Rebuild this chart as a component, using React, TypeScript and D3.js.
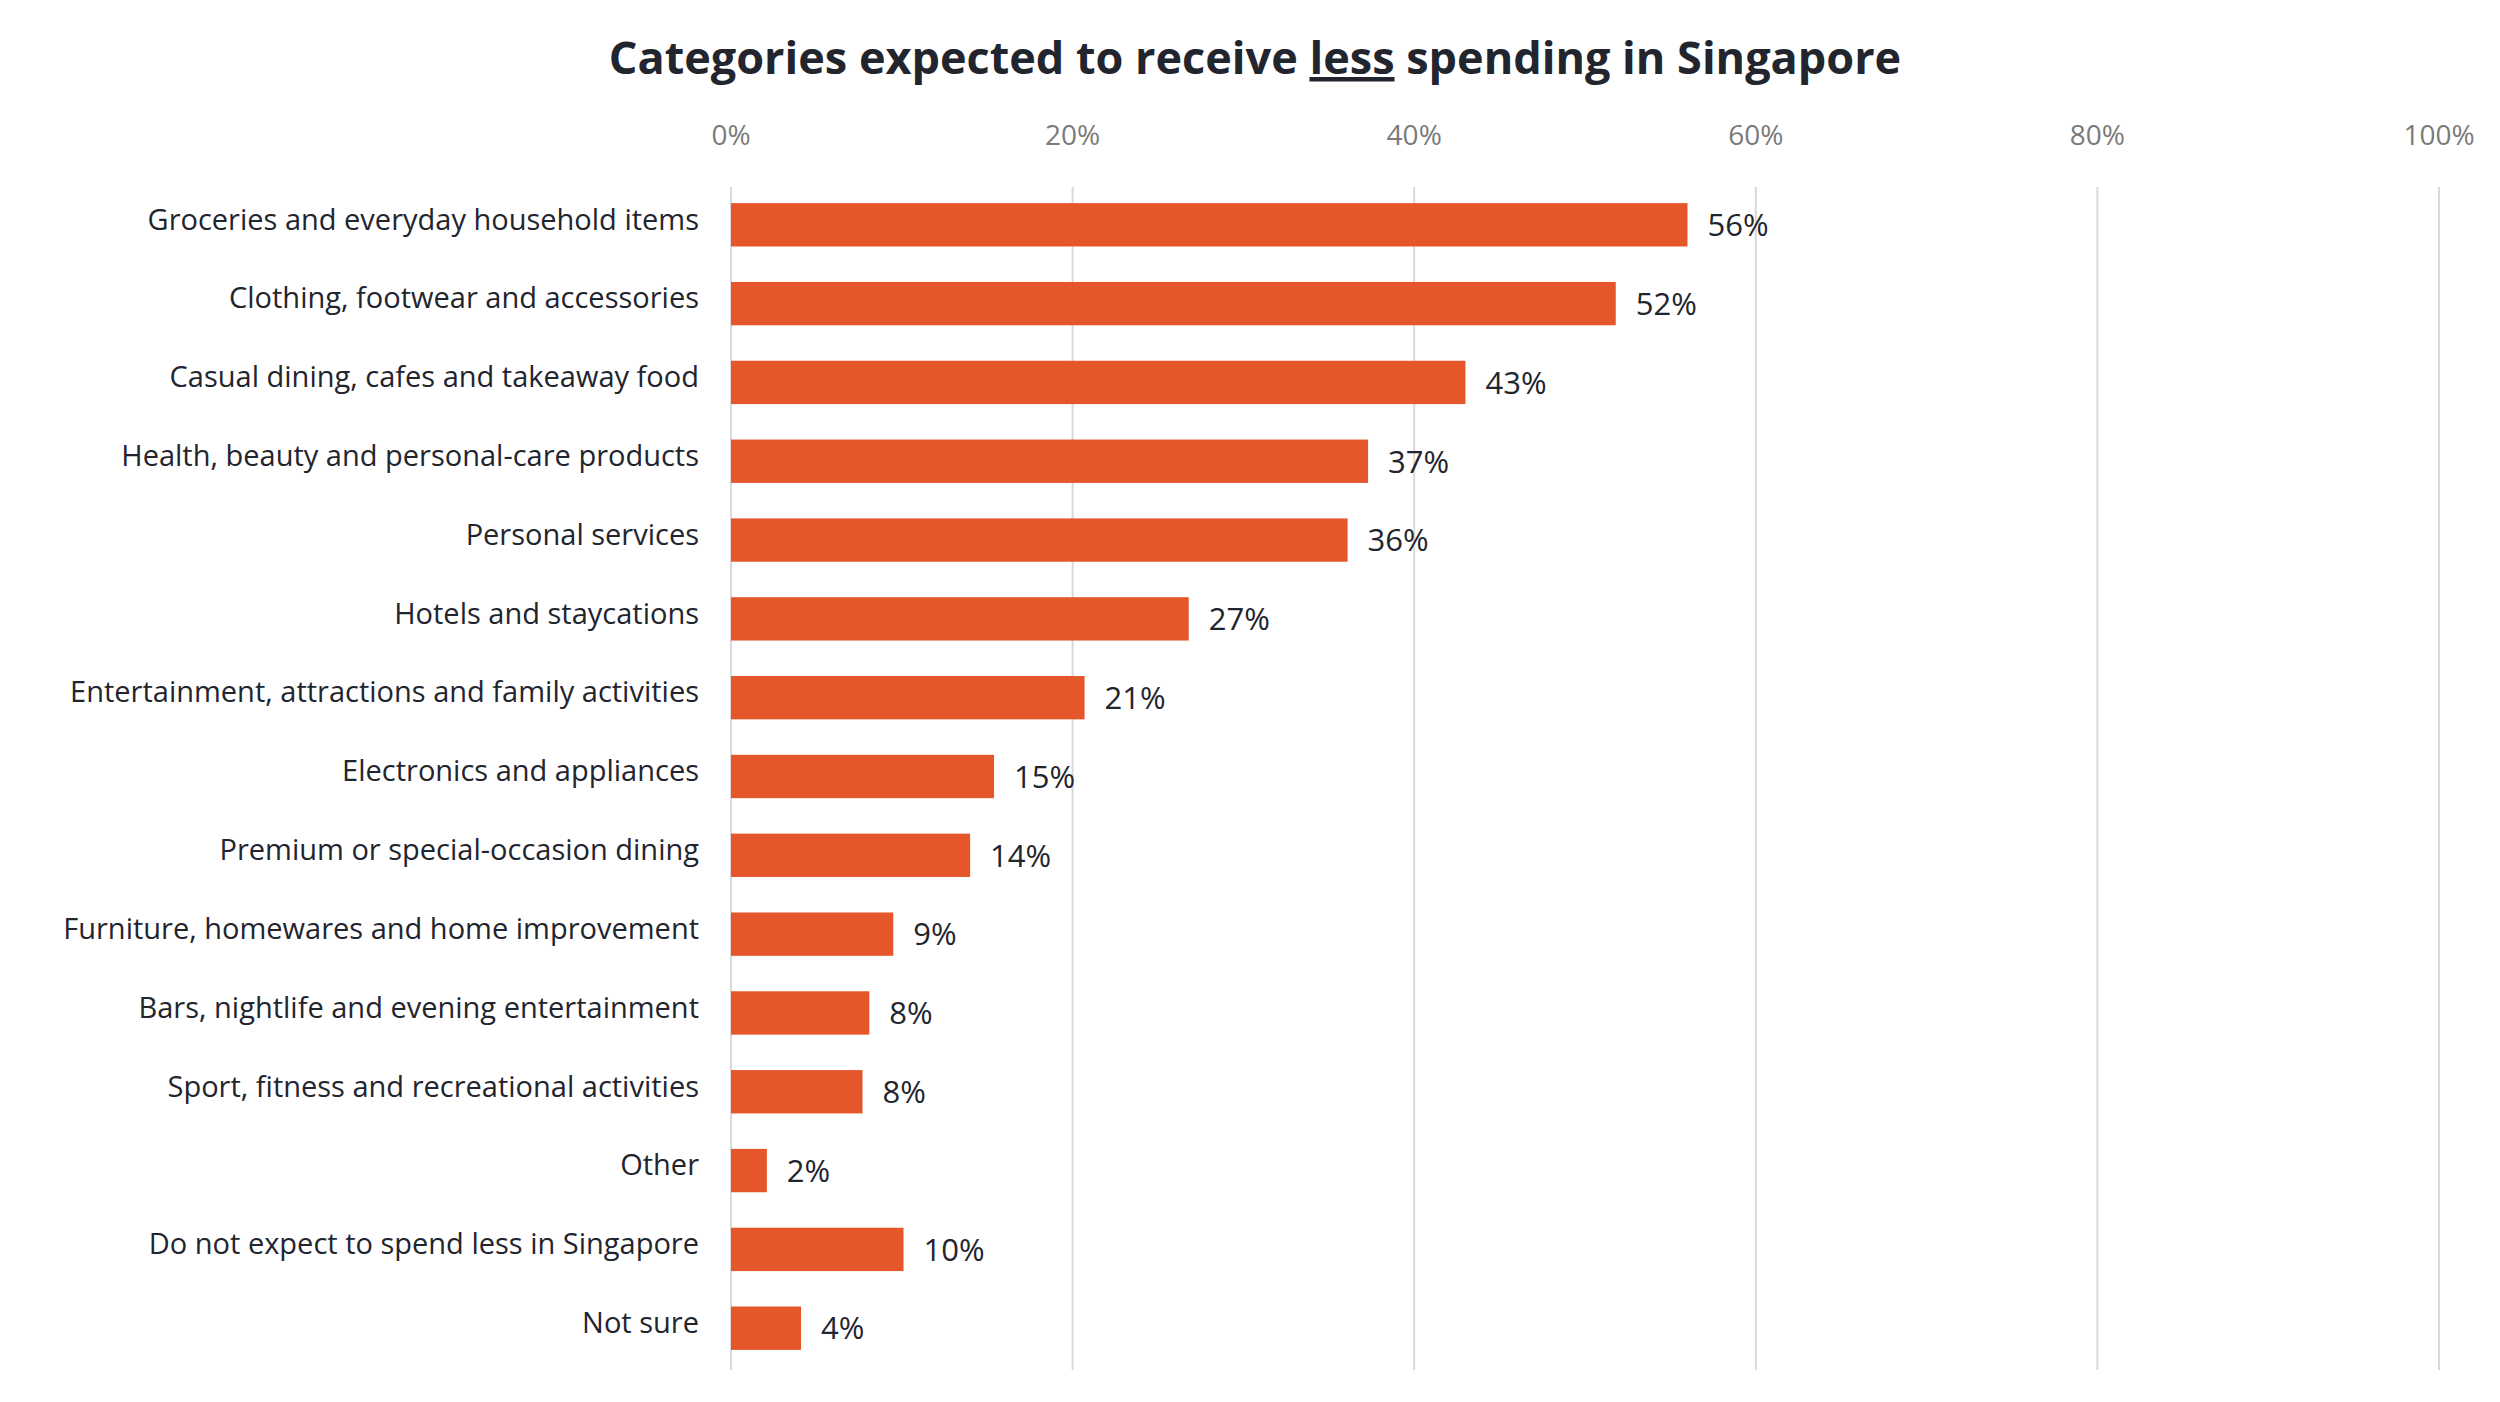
import React from 'react';
import * as d3 from 'd3';

const categories = [
  'Groceries and everyday household items',
  'Clothing, footwear and accessories',
  'Casual dining, cafes and takeaway food',
  'Health, beauty and personal-care products',
  'Personal services',
  'Hotels and staycations',
  'Entertainment, attractions and family activities',
  'Electronics and appliances',
  'Premium or special-occasion dining',
  'Furniture, homewares and home improvement',
  'Bars, nightlife and evening entertainment',
  'Sport, fitness and recreational activities',
  'Other',
  'Do not expect to spend less in Singapore',
  'Not sure',
];
const values = [56, 52, 43, 37, 36, 27, 21, 15, 14, 9, 8, 8, 2, 10, 4];
// precise bar ends
const barEnds = [56.0, 51.8, 43.0, 37.3, 36.1, 26.8, 20.7, 15.4, 14.0, 9.5, 8.1, 7.7, 2.1, 10.1, 4.1];
const ticks = [0, 20, 40, 60, 80, 100];

const W = 2500;
const H = 1402;
const FONT = "'Open Sans', 'Noto Sans', sans-serif";

export default function App() {
  const x = d3.scaleLinear().domain([0, 100]).range([731, 2439]);
  const y = d3.scaleBand().domain(categories).range([185, 1368]).paddingInner(0.45).paddingOuter(0.23);

  return (
    <svg width={W} height={H} style={{ display: 'block', margin: -8, background: '#fff' }}>
      <text x={1255} y={74} textAnchor="middle" fontFamily={FONT} fontWeight={700} fontSize={45} fill="#22252e">
        Categories expected to receive{' '}
        <tspan textDecoration="underline">less</tspan> spending in Singapore
      </text>
      {ticks.map((t) => (
        <g key={t}>
          <line x1={x(t)} x2={x(t)} y1={187} y2={1370} stroke="#d9d9d9" strokeWidth={2} />
          <text x={x(t)} y={145} textAnchor="middle" fontFamily={FONT} fontSize={28} fill="#7a7a7a">
            {t}%
          </text>
        </g>
      ))}
      {categories.map((c, i) => {
        const yy = y(c)!;
        const bh = y.bandwidth();
        return (
          <g key={c}>
            <rect x={x(0)} y={yy} width={x(barEnds[i]) - x(0)} height={bh} fill="#e5562b" />
            <text x={699} y={yy + bh / 2 - 3} dominantBaseline="middle" textAnchor="end" fontFamily={FONT} fontSize={29} fill="#22252e">
              {c}
            </text>
            <text x={x(barEnds[i]) + 20} y={yy + bh / 2 + 3} dominantBaseline="middle" fontFamily={FONT} fontSize={31} fill="#22252e">
              {values[i]}%
            </text>
          </g>
        );
      })}
    </svg>
  );
}
